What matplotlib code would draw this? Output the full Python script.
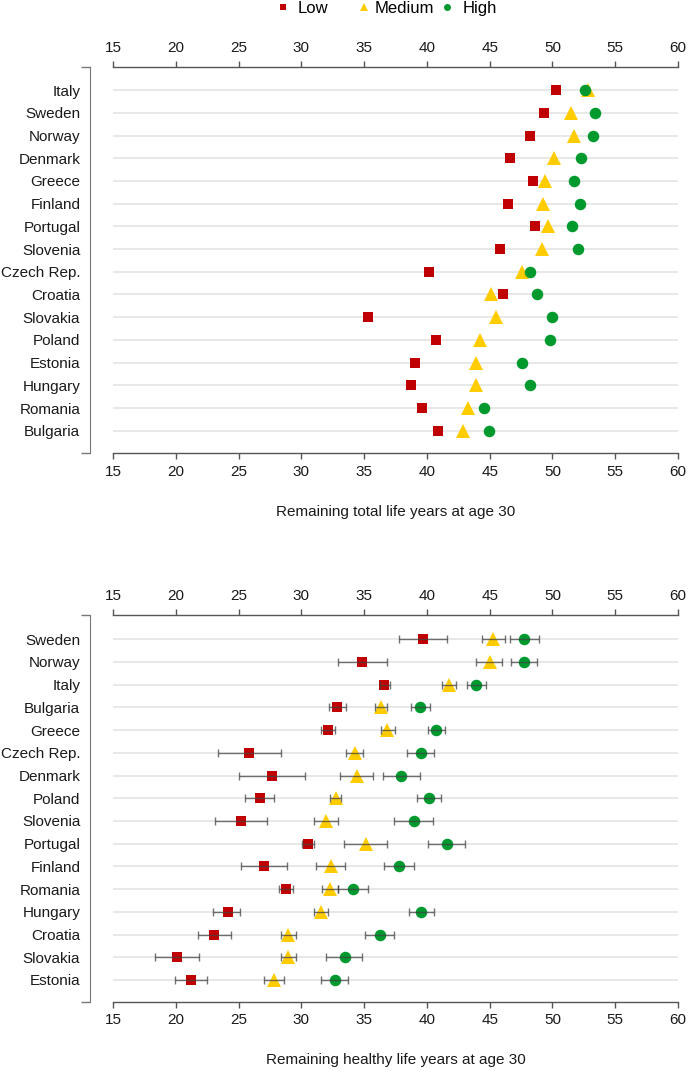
import numpy as np
import matplotlib
matplotlib.use("Agg")
import matplotlib.pyplot as plt
from matplotlib.lines import Line2D

plt.rcParams['font.family'] = ['Liberation Sans', 'DejaVu Sans']

# Panel 1 - remaining total life years at age 30
countries_total = ['Italy', 'Sweden', 'Norway', 'Denmark', 'Greece', 'Finland', 'Portugal',
                   'Slovenia', 'Czech Rep.', 'Croatia', 'Slovakia', 'Poland', 'Estonia',
                   'Hungary', 'Romania', 'Bulgaria']
total_low = [50.3, 49.35, 48.2, 46.6, 48.45, 46.5, 48.6, 45.8, 40.2, 46.1, 35.3, 40.75,
             39.05, 38.7, 39.6, 40.9]
total_med = [52.8, 51.5, 51.75, 50.15, 49.4, 49.25, 49.65, 49.2, 47.55, 45.1, 45.5, 44.2,
             43.95, 43.9, 43.3, 42.85]
total_high = [52.6, 53.4, 53.2, 52.3, 51.7, 52.2, 51.6, 52.0, 48.25, 48.8, 50.0, 49.8,
              47.6, 48.25, 44.55, 44.95]

# Panel 2 - remaining healthy life years at age 30 (with confidence intervals)
countries_healthy = ['Sweden', 'Norway', 'Italy', 'Bulgaria', 'Greece', 'Czech Rep.', 'Denmark',
                     'Poland', 'Slovenia', 'Portugal', 'Finland', 'Romania', 'Hungary',
                     'Croatia', 'Slovakia', 'Estonia']
healthy_low = [39.7, 34.8, 36.6, 32.85, 32.1, 25.85, 27.65, 26.7, 25.2, 30.55, 27.05, 28.75,
               24.15, 23.05, 20.1, 21.2]
healthy_low_lo = [37.8, 32.9, 36.25, 32.2, 31.55, 23.35, 25.05, 25.5, 23.1, 30.05, 25.2, 28.2,
                  23.0, 21.75, 18.35, 19.95]
healthy_low_hi = [41.6, 36.8, 37.05, 33.6, 32.65, 28.4, 30.3, 27.85, 27.3, 31.05, 28.85, 29.35,
                  25.15, 24.4, 21.85, 22.5]
healthy_med = [45.3, 45.0, 41.75, 36.35, 36.85, 34.3, 34.4, 32.75, 32.0, 35.15, 32.35, 32.25,
               31.55, 28.95, 28.95, 27.8]
healthy_med_lo = [44.4, 43.95, 41.2, 35.9, 36.35, 33.6, 33.05, 32.3, 31.05, 33.4, 31.15, 31.65,
                  31.0, 28.35, 28.35, 27.0]
healthy_med_hi = [46.25, 45.95, 42.3, 36.85, 37.5, 34.95, 35.75, 33.2, 32.95, 36.85, 33.5, 32.9,
                  32.15, 29.55, 29.55, 28.6]
healthy_high = [47.75, 47.7, 43.95, 39.45, 40.75, 39.5, 37.95, 40.15, 38.95, 41.6, 37.75, 34.1,
                39.55, 36.25, 33.45, 32.65]
healthy_high_lo = [46.6, 46.7, 43.2, 38.7, 40.1, 38.4, 36.5, 39.25, 37.4, 40.1, 36.55, 32.9,
                   38.55, 35.05, 32.0, 31.55]
healthy_high_hi = [48.9, 48.75, 44.7, 40.25, 41.45, 40.6, 39.45, 41.15, 40.5, 43.05, 39.0, 35.3,
                   40.55, 37.4, 34.85, 33.75]

groups = ['Low', 'Medium', 'High']
colors = {'Low': '#C00000', 'Medium': '#FFCC00', 'High': '#00992E'}
markers = {'Low': ('s', 7.6), 'Medium': ('^', 9.5), 'High': ('o', 8.3)}
legend_ms = {'Low': 4.4, 'Medium': 5.6, 'High': 5.0}
legend_x = {'Low': 0.3995, 'Medium': 0.5172, 'High': 0.6379}
legend_pad = {'Low': 0.35, 'Medium': 0.15, 'High': 0.4}
x_ticks = list(range(15, 61, 5))

axis_col = '#555555'
bracket_col = '#777777'


def style_axis(ax, countries, xlabel, ylim):
    n = len(countries)
    ypos = np.arange(n, 0, -1)
    ax.set_xlim(15, 60)
    ax.set_ylim(*ylim)
    ax.set_xticks(x_ticks)
    ax.tick_params(axis='x', which='both', top=True, bottom=True, labeltop=True,
                   labelbottom=True, direction='out', length=4.3, width=1,
                   color=axis_col, pad=4, labelsize=11, labelcolor='#1a1a1a')
    # y axis as an R-style bracket with country labels
    ax.set_yticks(list(ylim))
    ax.set_yticks(ypos, labels=countries, minor=True)
    ax.tick_params(axis='y', which='major', left=True, labelleft=False, length=6.5,
                   width=1, color=bracket_col, direction='out')
    ax.tick_params(axis='y', which='minor', length=0, pad=7, labelsize=11,
                   labelcolor='#1a1a1a')
    ax.spines['left'].set_position(('outward', 16.5))
    ax.spines['left'].set_color(bracket_col)
    ax.spines['right'].set_visible(False)
    for s in ('top', 'bottom'):
        ax.spines[s].set_color(axis_col)
        ax.spines[s].set_linewidth(1)
    ax.grid(axis='y', which='minor', color='#e6e6e6', linewidth=1.3)
    ax.set_axisbelow(True)
    ax.set_xlabel(xlabel, fontsize=11, color='#1a1a1a', labelpad=19)
    return ypos


fig = plt.figure(figsize=(6.88, 10.74), dpi=100)
ax1 = fig.add_axes([0.1642, 0.5782, 0.8212, 0.3597])
ax2 = fig.add_axes([0.1642, 0.0675, 0.8212, 0.3599])

# top panel
y1 = style_axis(ax1, countries_total, 'Remaining total life years at age 30', (0.02, 17.03))
for g, vals in zip(groups, [total_low, total_med, total_high]):
    m, ms = markers[g]
    ax1.plot(vals, y1, linestyle='none', marker=m, markersize=ms, color=colors[g],
             markeredgewidth=0, zorder=3)

# bottom panel
y2 = style_axis(ax2, countries_healthy, 'Remaining healthy life years at age 30', (0.05, 17.07))
healthy = {
    'Low': (healthy_low, healthy_low_lo, healthy_low_hi),
    'Medium': (healthy_med, healthy_med_lo, healthy_med_hi),
    'High': (healthy_high, healthy_high_lo, healthy_high_hi),
}
for g in groups:
    vals, lo, hi = (np.array(v) for v in healthy[g])
    m, ms = markers[g]
    ax2.plot(vals, y2, linestyle='none', marker=m, markersize=ms, color=colors[g],
             markeredgewidth=0, zorder=3)
    ax2.errorbar(vals, y2, xerr=[vals - lo, hi - vals], fmt='none', ecolor='#444444',
                 elinewidth=1, capsize=2.7, capthick=1, alpha=0.75, zorder=4)

# legend at the top, one entry per group (uneven spacing as in the original)
for g in groups:
    h = Line2D([], [], linestyle='none', marker=markers[g][0], markersize=legend_ms[g],
               color=colors[g], markeredgewidth=0)
    fig.legend([h], [g], loc='center left', bbox_to_anchor=(legend_x[g], 0.9925),
               frameon=False, fontsize=12, handletextpad=legend_pad[g],
               handlelength=1.0, borderaxespad=0, borderpad=0)

fig.savefig('out.png', dpi=100)
